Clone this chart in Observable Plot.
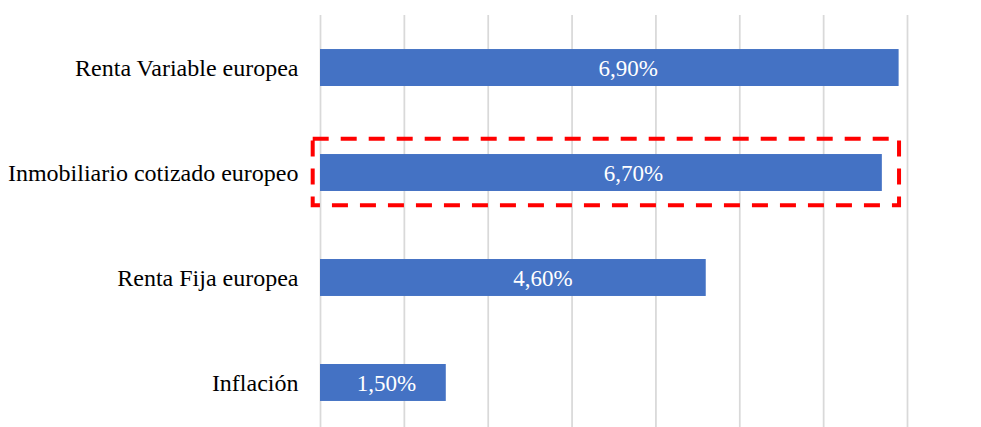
<!DOCTYPE html>
<html>
<head>
<meta charset="utf-8">
<script src="https://cdn.jsdelivr.net/npm/d3@7"></script>
<script src="https://cdn.jsdelivr.net/npm/@observablehq/plot@0.6"></script>
<style>
  html, body { margin: 0; padding: 0; background: #fff; }
</style>
</head>
<body>
<div id="chart"></div>
<script>
const categories = ["Renta Variable europea", "Inmobiliario cotizado europeo", "Renta Fija europea", "Inflación"];
const values = [6.9, 6.7, 4.6, 1.5];
const gridTicks = [0, 1, 2, 3, 4, 5, 6, 7];
const highlighted = "Inmobiliario cotizado europeo";

const data = categories.map((c, i) => ({cat: c, value: values[i]}));
const fmt = v => v.toFixed(2).replace(".", ",") + "%";
const serif = "'Liberation Serif', 'Times New Roman', serif";

// pixel nudges of the value labels, as placed in the original chart (styling, not data)
const labelNudge = {
  "Renta Variable europea": 18.5,
  "Inmobiliario cotizado europeo": 32,
  "Renta Fija europea": 29.5,
  "Inflación": 3
};

const chart = Plot.plot({
  width: 981,
  height: 427,
  marginLeft: 320,
  marginRight: 74,
  marginTop: 15,
  marginBottom: 0,
  style: {fontFamily: serif, background: "#fff"},
  x: {domain: [0, 7], axis: null},
  y: {domain: categories, range: [-19, 469], padding: 0.648, round: false, label: null},
  marks: [
    Plot.ruleX(gridTicks, {x: d => d, stroke: "#d9d9d9", strokeWidth: 1.75, strokeOpacity: 1}),
    Plot.barX(data, {x: "value", y: "cat", fill: "#4472C4"}),
    ...data.map(d => Plot.text([d], {
      x: v => v.value / 2, y: "cat", text: v => fmt(v.value),
      fill: "#fff", fontSize: 23, fontFamily: serif, dx: labelNudge[d.cat], dy: 1
    })),
    Plot.barX(data.filter(d => d.cat === highlighted), {
      x: "value", y: "cat", fill: "none", stroke: "#ff0000", strokeWidth: 4,
      strokeDasharray: "16,12",
      insetTop: -15.3, insetBottom: -14.3, insetLeft: -7.3, insetRight: -17.2
    }),
    Plot.axisY({tickSize: 0, tickPadding: 22, fontSize: 24, fontFamily: serif, fill: "#000", label: null})
  ]
});
document.getElementById("chart").appendChild(chart);
</script>
</body>
</html>
